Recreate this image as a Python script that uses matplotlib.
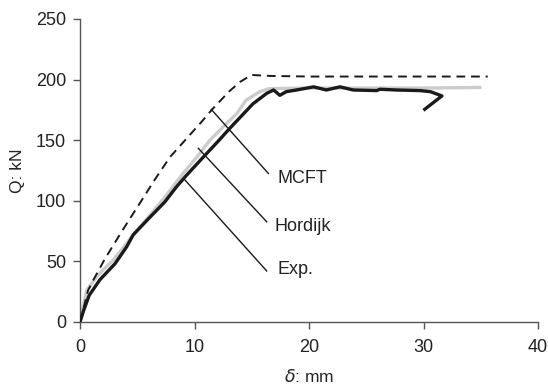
import matplotlib
matplotlib.use("Agg")
import matplotlib.pyplot as plt

plt.rcParams['font.family'] = ['Liberation Sans', 'DejaVu Sans']
plt.rcParams['mathtext.fontset'] = 'dejavusans'

# measured load-deflection response
exp_d = [0, 0.3, 0.8, 1.75, 3.05, 4.07, 4.65, 5.96, 7.4, 8.43, 9.2, 10.76, 12.0, 13.1,
         14.1, 15.1, 16.3, 16.9, 17.45, 18.0, 18.9, 20.4, 21.5, 22.7, 23.85, 25.9, 26.2,
         27.6, 29.7, 30.6, 31.6, 30.1]
exp_q = [0, 9, 22, 35, 48, 62, 72, 85, 99, 111.6, 120, 136, 148.5, 160,
         170, 180, 188.6, 191.4, 187, 190, 191.4, 194, 191.4, 194, 191.4, 190.9, 192,
         191.4, 190.9, 190, 186.5, 175.5]

# Hordijk softening model
hor_d = [0, 0.58, 1.5, 3.0, 4.5, 6.0, 7.5, 9.0, 10.2, 11.35, 12.5, 13.7, 14.5, 15.7,
         16.5, 20, 25, 30, 35.05]
hor_q = [0, 26, 38, 52, 70, 87, 104, 122.6, 136, 150, 161, 172, 183, 190,
         192.5, 193, 193, 193, 193.5]

# MCFT prediction
mcft_d = [0, 0.7, 1.16, 2.2, 3.8, 5.4, 6.5, 7.85, 10.6, 11.5, 13.0, 13.96, 14.98,
          16.6, 20, 35.6]
mcft_q = [0, 26, 34.6, 52.5, 77, 100.6, 117, 136, 165, 175, 190, 198, 203.8,
          203, 202.5, 202.5]

labels = ['MCFT', 'Hordijk', 'Exp.']
leader_start = [(11.47, 175.3), (10.33, 143.3), (9.16, 117.2)]
leader_end = [(16.45, 122.5), (16.3, 82.7), (16.3, 42.1)]
label_pos = [(17.2, 118.5), (17.0, 78.4), (17.2, 42.9)]

fig = plt.figure(figsize=(5.48, 3.87), dpi=100)
ax = fig.add_axes([0.146, 0.168, 0.836, 0.783])

ax.plot(hor_d, hor_q, color='#cccccc', lw=2.4, solid_capstyle='butt', zorder=2)
ax.plot(mcft_d, mcft_q, color='#1a1a1a', lw=1.4, dashes=(4.5, 3), zorder=3)
ax.plot(exp_d, exp_q, color='#1a1a1a', lw=2.4, zorder=4)

for (x0, y0), (x1, y1), (tx, ty), lab in zip(leader_start, leader_end, label_pos, labels):
    ax.plot([x0, x1], [y0, y1], color='#1a1a1a', lw=1.0, zorder=5)
    ax.text(tx, ty, lab, fontsize=13, color='#222222', va='center', ha='left')

ax.set_xlim(0, 40)
ax.set_ylim(0, 250)
ax.set_xticks([0, 10, 20, 30, 40])
ax.set_yticks([0, 50, 100, 150, 200, 250])
ax.spines['top'].set_visible(False)
ax.spines['right'].set_visible(False)
for s in ['left', 'bottom']:
    ax.spines[s].set_color('#555555')
    ax.spines[s].set_linewidth(1.0)
ax.tick_params(direction='out', length=5, width=1, color='#555555',
               labelsize=13, labelcolor='#222222')
ax.tick_params(axis='x', pad=7)
ax.tick_params(axis='y', pad=5)

ax.set_xlabel(r'$\delta$: mm', fontsize=12.5, color='#222222', labelpad=9)
ax.set_ylabel('Q: kN', fontsize=12.5, color='#222222', labelpad=8)

fig.savefig('out.png', dpi=100)
